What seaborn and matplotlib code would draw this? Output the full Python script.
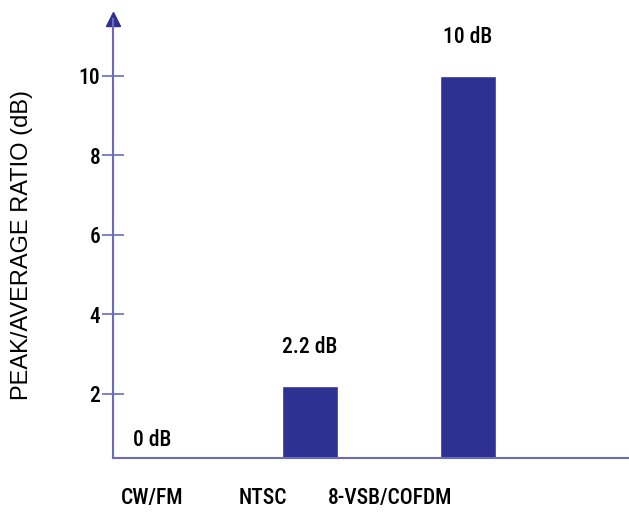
import matplotlib
matplotlib.use("Agg")
import matplotlib.pyplot as plt
import matplotlib.transforms as mtransforms
import seaborn as sns

# Peak-to-average power ratio of broadcast signal types
categories = ["CW/FM", "NTSC", "8-VSB/COFDM"]
ratios_db = [0, 2.2, 10]
y_ticks = [2, 4, 6, 8, 10]

bar_color = "#2e3192"
axis_color = "#6b6bbd"
narrow = ["Roboto Condensed", "Liberation Sans", "DejaVu Sans"]
regular = ["Liberation Sans", "DejaVu Sans"]

sns.set_theme(style="white")
plt.rcParams["font.family"] = regular
plt.rcParams["text.color"] = "black"
plt.rcParams["xtick.color"] = "black"
plt.rcParams["ytick.color"] = "black"
plt.rcParams["axes.labelcolor"] = "black"

fig = plt.figure(figsize=(6.29, 5.25), dpi=100)
ax = fig.add_axes([113 / 629, 0.12762, 516 / 629, 0.8353])

sns.barplot(x=categories, y=ratios_db, color=bar_color, saturation=1,
            width=0.35, errorbar=None, ax=ax)

ax.set_xlim(-0.247, 3.019)
ax.set_ylim(0.39, 11.42)

# Axes: left and bottom lines only, with an arrow on the value axis
for side in ("top", "right"):
    ax.spines[side].set_visible(False)
for side in ("left", "bottom"):
    ax.spines[side].set_color(axis_color)
    ax.spines[side].set_linewidth(1.5)
ax.plot([0], [1], marker="^", markersize=9.4, color=bar_color,
        transform=ax.transAxes, clip_on=False)

ax.set_yticks(y_ticks)
ax.set_yticklabels([str(t) for t in y_ticks], fontfamily=narrow,
                   fontsize=15.5, fontweight="medium")
ax.tick_params(axis="y", direction="inout", length=16.5, width=1.2,
               color=axis_color, labelcolor="black", pad=1, left=True)
ax.tick_params(axis="x", length=0, pad=21, labelcolor="black")

ax.set_xticks(range(len(categories)))
ax.set_xticklabels(categories, fontfamily=narrow, fontsize=15.5,
                   fontweight="medium")
label_shift = [0.0, -0.47, -0.78]
for lbl, dx in zip(ax.get_xticklabels(), label_shift):
    lbl.set_transform(lbl.get_transform() +
                      mtransforms.ScaledTranslation(dx, 0, fig.dpi_scale_trans))

ax.set_xlabel("")
ax.set_ylabel("PEAK/AVERAGE RATIO (dB)", fontsize=17, fontfamily=regular,
              color="black")
ax.yaxis.set_label_coords(-0.155, 0.486)

value_labels = ax.bar_label(ax.containers[0],
                            labels=[f"{v:g} dB" for v in ratios_db],
                            padding=20, fontsize=15.5, fontfamily=narrow,
                            fontweight="medium", color="black",
                            annotation_clip=False)
# the zero-height bar sits below the visible baseline, so keep its label low
value_labels[0].xyann = (0, 16)

fig.savefig("out.png", dpi=100, facecolor="white")
